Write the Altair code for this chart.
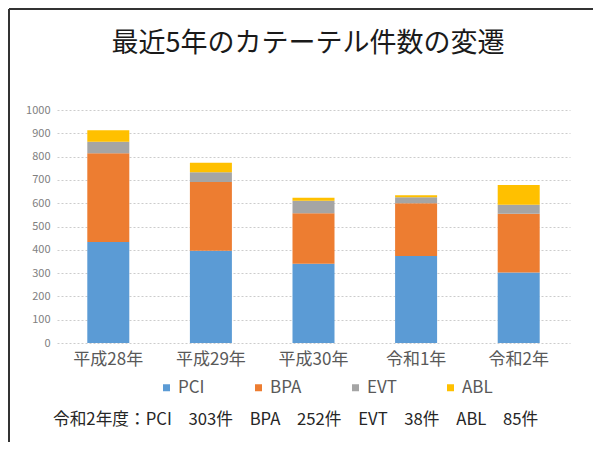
import altair as alt
import pandas as pd

years = ["平成28年", "平成29年", "平成30年", "令和1年", "令和2年"]
series = ["PCI", "BPA", "EVT", "ABL"]
pci = [434, 396, 340, 373, 303]
bpa = [380, 295, 217, 227, 252]
evt = [50, 42, 53, 26, 38]
abl = [49, 41, 13, 8, 85]
colors = ["#5B9BD5", "#ED7D31", "#A5A5A5", "#FFC000"]
y_ticks = list(range(0, 1001, 100))
title_text = "最近5年のカテーテル件数の変遷"
note_text = "令和2年度：PCI　303件　BPA　252件　EVT　38件　ABL　85件"

rows = []
for s_i, (name, vals) in enumerate(zip(series, [pci, bpa, evt, abl])):
    for yr, v in zip(years, vals):
        rows.append({"year": yr, "series": name, "count": v, "order": s_i})
df = pd.DataFrame(rows)

FONT = "Noto Sans CJK JP"

bars = alt.Chart(df).mark_bar(size=42).encode(
    x=alt.X("year:N", sort=years, title=None,
            axis=alt.Axis(labelAngle=0, labelFontSize=17, labelColor="#595959",
                          labelPadding=8, ticks=False, domain=False, grid=False,
                          labelFont=FONT)),
    y=alt.Y("count:Q", stack="zero", title=None,
            scale=alt.Scale(domain=[0, 1000], nice=False),
            axis=alt.Axis(values=y_ticks, format="d", labelFontSize=11, labelColor="#808080",
                          labelPadding=7, ticks=False, domain=False,
                          grid=True, gridColor="#CCCCCC", gridDash=[2, 2],
                          labelFont=FONT)),
    color=alt.Color("series:N", sort=series,
                    scale=alt.Scale(domain=series, range=colors),
                    legend=alt.Legend(title=None, orient="none", direction="horizontal",
                                      legendX=101, legendY=269, symbolType="square",
                                      symbolSize=49, symbolStrokeWidth=0,
                                      labelFontSize=17, labelColor="#595959",
                                      labelFont=FONT, columnPadding=45,
                                      symbolOffset=0, labelOffset=3, padding=0)),
    order=alt.Order("order:Q", sort="ascending"),
)

frame_top = alt.Chart(pd.DataFrame({"a": [0]})).mark_rule(color="#333333", strokeWidth=2).encode(
    x=alt.value(-48), x2=alt.value(540), y=alt.value(-101)
)
frame_left = alt.Chart(pd.DataFrame({"a": [0]})).mark_rule(color="#333333", strokeWidth=2).encode(
    x=alt.value(-48), y=alt.value(-101), y2=alt.value(340)
)
title = alt.Chart(pd.DataFrame({"t": [title_text]})).mark_text(
    align="center", baseline="middle", fontSize=27, color="#1A1A1A", font=FONT
).encode(x=alt.value(251), y=alt.value(-66), text="t:N")
note = alt.Chart(pd.DataFrame({"t": [note_text]})).mark_text(
    align="left", baseline="middle", fontSize=16.7, color="#262626", font=FONT
).encode(x=alt.value(-4), y=alt.value(310), text="t:N")

chart = alt.layer(bars, frame_top, frame_left, title, note).properties(
    width=513, height=233,
    padding={"left": 49, "top": 102, "right": 23, "bottom": 99},
    autosize=alt.AutoSizeParams(type="none"),
).configure_view(stroke=None)

chart.save("out.html", embed_options={"renderer": "svg", "actions": False})
